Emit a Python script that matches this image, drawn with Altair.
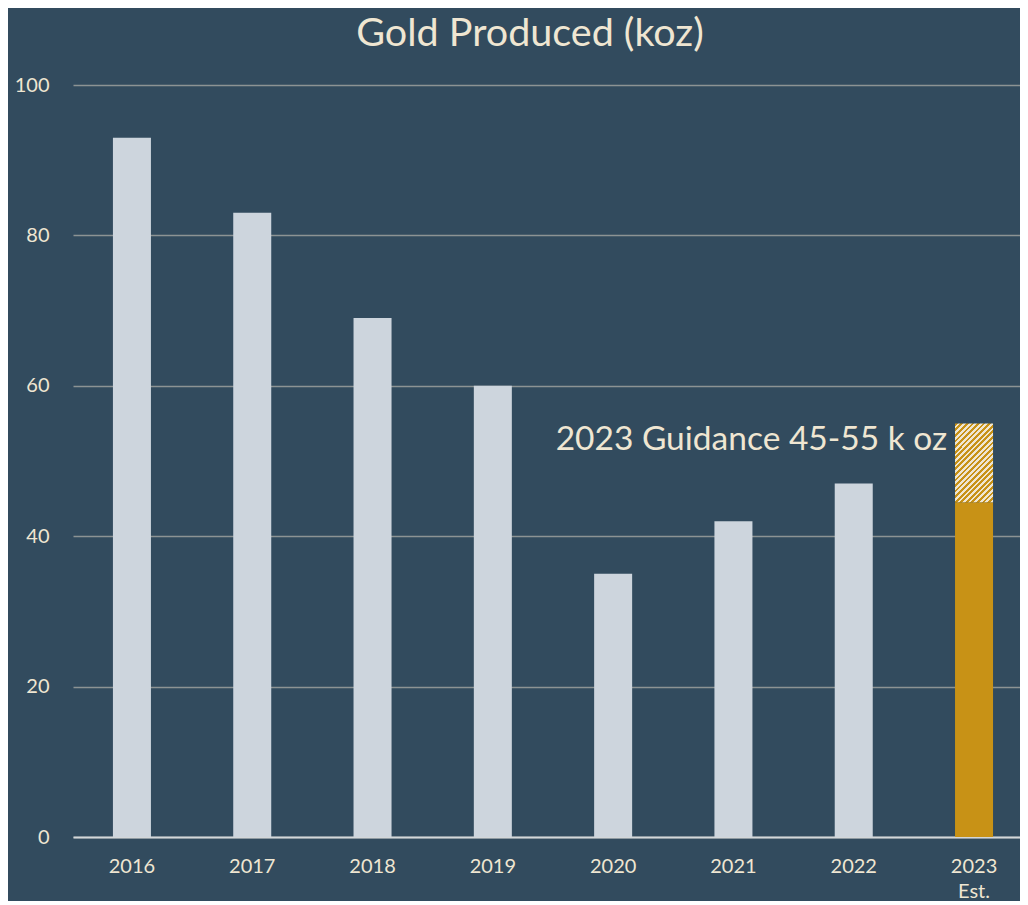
import altair as alt
import pandas as pd

years = ["2016", "2017", "2018", "2019", "2020", "2021", "2022", "2023 Est."]
produced = [93, 83, 69, 60, 35, 42, 47, 44.5]
kind = ["Actual", "Actual", "Actual", "Actual", "Actual", "Actual", "Actual", "Estimate"]
guidance_year = ["2023 Est."]
guidance_low = [44.5]
guidance_high = [55]
note_text = ["2023 Guidance 45-55 k oz"]
note_value = [52.8]

BG = "#324B5E"
BAR = "#CDD5DD"
GOLD = "#C89216"
CREAM = "#EFE6D2"
FONT = "Lato"

df = pd.DataFrame({"year": years, "value": produced, "kind": kind})
gdf = pd.DataFrame({"year": guidance_year, "low": guidance_low, "high": guidance_high})
ndf = pd.DataFrame({"year": guidance_year, "value": note_value, "text": note_text})

x_scale = alt.Scale(domain=years, paddingInner=0.684, paddingOuter=0.278, align=0.597)
y_scale = alt.Scale(domain=[0, 100])

x_enc = alt.X(
    "year:N",
    scale=x_scale,
    sort=years,
    title=None,
    axis=alt.Axis(
        labelAngle=0,
        labelColor=CREAM,
        labelFont=FONT,
        labelFontSize=20,
        labelPadding=19,
        ticks=False,
        domainColor="#D3D7D9",
        domainWidth=2,
        labelExpr="datum.label == '2023 Est.' ? ['2023', 'Est.'] : datum.label",
        labelLineHeight=25,
    ),
)

bars = alt.Chart(df).mark_bar().encode(
    x=x_enc,
    y=alt.Y(
        "value:Q",
        scale=y_scale,
        title=None,
        axis=alt.Axis(
            values=[0, 20, 40, 60, 80, 100],
            labelColor=CREAM,
            labelFont=FONT,
            labelFontSize=20,
            labelPadding=24,
            ticks=False,
            domain=False,
            gridColor="#8C9394",
            gridWidth=1.4,
        ),
    ),
    color=alt.Color(
        "kind:N",
        scale=alt.Scale(domain=["Actual", "Estimate"], range=[BAR, GOLD]),
        legend=None,
    ),
)

n_periods = 21
stops = []
for i in range(n_periods):
    a = i / n_periods
    m = (i + 0.5) / n_periods
    b = (i + 1) / n_periods
    stops += [
        {"offset": a, "color": GOLD},
        {"offset": m, "color": GOLD},
        {"offset": m, "color": CREAM},
        {"offset": b, "color": CREAM},
    ]

hatch = alt.Chart(gdf).mark_bar(
    fill={"gradient": "linear", "x1": 0, "y1": 0, "x2": 0.578, "y2": 1.2, "stops": stops}
).encode(
    x=alt.X("year:N", scale=x_scale, sort=years),
    y=alt.Y("low:Q", scale=y_scale),
    y2="high:Q",
)

note = alt.Chart(ndf).mark_text(
    align="right", baseline="middle", dx=-27, font=FONT, fontSize=33.5, color=CREAM
).encode(
    x=alt.X("year:N", scale=x_scale, sort=years),
    y=alt.Y("value:Q", scale=y_scale),
    text="text:N",
)

chart = (
    alt.layer(bars, hatch, note)
    .properties(
        width=947,
        height=752,
        background=BG,
        padding={"left": 6, "top": 5, "right": 0, "bottom": 0},
        title=alt.TitleParams(
            "Gold Produced (koz)",
            color=CREAM,
            font=FONT,
            fontSize=39.5,
            fontWeight="normal",
            anchor="middle",
            dx=-16.5,
            offset=21,
        ),
    )
    .configure_view(stroke=None)
)

chart.save("out.html", embed_options={"renderer": "svg", "actions": False})
